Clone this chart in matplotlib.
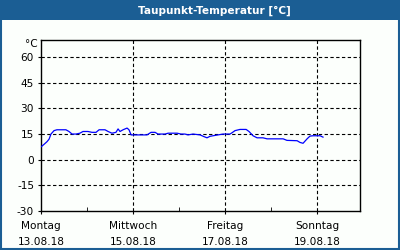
import matplotlib
matplotlib.use("Agg")
import matplotlib.pyplot as plt
from matplotlib.patches import Rectangle

# hours since Montag 13.08.18 00:00, dew point in degC
hours = [0, 1.6, 3.1, 4.2, 5.2, 6.8, 8.3, 11.0, 13.0, 14.6, 16.2, 18.3, 20.3,
         21.9, 24.5, 26.6, 28.7, 30.3, 33.4, 35.0, 37.0, 39.1, 40.2, 41.2,
         42.8, 44.9, 45.9, 47.0, 51.7, 55.3, 57.4, 59.5, 61.0, 64.7, 66.3,
         71.0, 73.0, 75.1, 76.7, 79.3, 83.0, 85.0, 86.6, 88.2, 91.8, 95.0,
         98.6, 99.7, 101.2, 103.8, 107.0, 108.5, 110.6, 112.7, 115.8, 117.9,
         126.3, 128.3, 133.6, 135.1, 136.7, 138.8, 140.3, 141.9, 145.6, 147.1]
taupunkt = [7.5, 9, 10.5, 12, 15, 17, 17.5, 17.5, 17.5, 16.5, 15, 15, 15.5,
            16.5, 16.5, 16, 16, 17.5, 17.5, 16.5, 15.5, 16, 18, 16.5,
            17.5, 18.5, 17.5, 14.5, 14.5, 14.5, 16, 16, 15, 15, 15.5,
            15.5, 15, 15, 14.5, 15, 14.5, 13.5, 12.8, 13.7, 14.4, 15,
            15, 15.8, 17, 17.7, 17.7, 16.5, 14, 12.8, 12.8, 12.2,
            12.2, 11.3, 11.1, 10.1, 9.6, 12.2, 13.8, 14, 14, 13.2]

tick_hours = [0, 48, 96, 144]
tick_labels = ["Montag\n13.08.18", "Mittwoch\n15.08.18",
               "Freitag\n17.08.18", "Sonntag\n19.08.18"]
minor_hours = [24, 72, 120]
y_ticks = [-30, -15, 0, 15, 30, 45, 60]

BLUE = "#1b5e94"
BG = "#fcfffc"

fig = plt.figure(figsize=(4, 2.5), dpi=100, facecolor=BG)

# title bar and frame
fig.patches.append(Rectangle((0, 1 - 20 / 250), 1, 20 / 250, transform=fig.transFigure,
                             facecolor=BLUE, edgecolor="none", zorder=0))
fig.patches.append(Rectangle((0.002, 0.004), 0.996, 0.99, transform=fig.transFigure,
                             facecolor="none", edgecolor=BLUE, linewidth=1.5, zorder=0))
fig.text(214 / 400, 1 - 10.5 / 250, "Taupunkt-Temperatur [°C]", color="white",
         fontsize=7.6, fontweight="bold", ha="center", va="center")

ax = fig.add_axes([41 / 400, 39 / 250, 319 / 400, 171 / 250])
ax.set_facecolor(BG)
ax.plot(hours, taupunkt, color="#0000ff", linewidth=0.9, zorder=3)

ax.set_xlim(0, 166.4)
ax.set_ylim(-30, 70)

ax.set_yticks(y_ticks)
ax.set_yticklabels([str(v) for v in y_ticks])
ax.set_xticks(tick_hours)
ax.set_xticklabels(tick_labels, linespacing=1.8)
ax.set_xticks(minor_hours, minor=True)

ax.tick_params(axis="x", which="major", direction="out", length=2, pad=5,
               labelsize=7.6, color="black")
ax.tick_params(axis="x", which="minor", direction="in", length=3)
ax.tick_params(axis="y", direction="out", length=2, pad=3, labelsize=7.6)

for v in y_ticks[1:]:
    ax.axhline(v, color="black", linewidth=0.8, dashes=(3, 2.2), zorder=1)
for h in tick_hours[1:]:
    ax.axvline(h, color="black", linewidth=0.8, dashes=(3, 2.2), zorder=1)

for s in ax.spines.values():
    s.set_color("black")
    s.set_linewidth(1)

ax.text(-0.012, 67.5, "°C", fontsize=7.6, ha="right", va="center",
        transform=ax.get_yaxis_transform())

fig.savefig("out.png", dpi=100, facecolor=BG)
